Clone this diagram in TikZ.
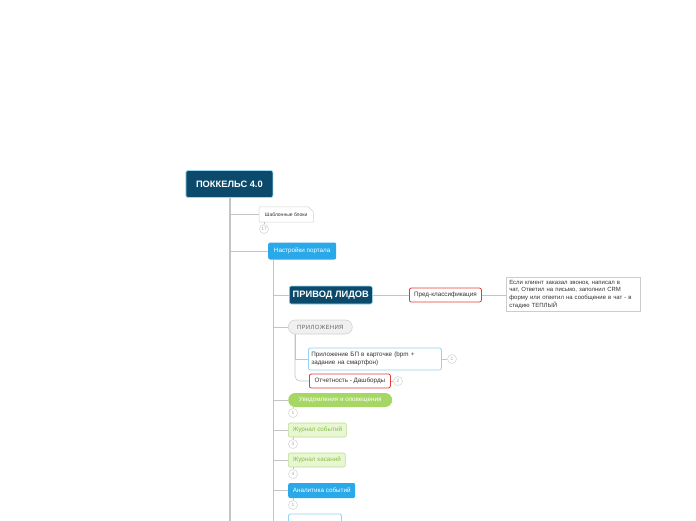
\documentclass[tikz,border=0pt]{standalone}
\usepackage{fontspec}
\setmainfont{Liberation Sans}
\definecolor{navy}{HTML}{0C4A6C}
\definecolor{navyedge}{HTML}{9AD8F4}
\definecolor{bluefill}{HTML}{29A9E9}
\definecolor{redline}{HTML}{E53935}
\definecolor{greenfill}{HTML}{A6D765}
\definecolor{lgfill}{HTML}{E9F6D4}
\definecolor{lgedge}{HTML}{B9E08C}
\definecolor{lgtext}{HTML}{86BE45}
\definecolor{lbedge}{HTML}{93D2F2}
\definecolor{conn}{HTML}{C4C4C4}
\definecolor{txt}{HTML}{333333}
\tikzset{
  box/.style={anchor=west, inner sep=0pt, rounded corners=2pt, align=center},
  navybox/.style={box, fill=navy, draw=navyedge, line width=0.8pt, text=white, font=\bfseries},
  bluebox/.style={box, fill=bluefill, text=white, font=\fontsize{6.3}{7}\selectfont},
  redbox/.style={box, fill=white, draw=redline, line width=0.8pt, text=txt, font=\fontsize{6.3}{7}\selectfont},
  pillgray/.style={box, rounded corners=7pt, fill=gray!12, draw=gray!35, line width=0.6pt, text=gray!80!black, font=\fontsize{6}{7}\selectfont},
  greenpill/.style={box, rounded corners=7pt, fill=greenfill, text=white, font=\fontsize{6.3}{7}\selectfont},
  lgbox/.style={box, fill=lgfill, draw=lgedge, line width=0.6pt, text=lgtext, font=\fontsize{6.3}{7}\selectfont},
  lbbox/.style={box, fill=white, draw=lbedge, line width=0.8pt, text=txt, font=\fontsize{6.3}{7.6}\selectfont},
  notebox/.style={anchor=north west, inner sep=3pt, fill=white, draw=gray!40, line width=0.5pt, text=txt, align=left, font=\fontsize{6}{7.6}\selectfont},
  badge/.style={circle, draw=gray!35, fill=white, line width=0.5pt, minimum size=9pt, inner sep=0pt, text=gray!70, font=\fontsize{4.8}{5}\selectfont},
  mainline/.style={draw=conn, line width=1.3pt},
  subline/.style={draw=conn, line width=0.9pt},
  thinline/.style={draw=conn, line width=0.6pt}
}
\begin{document}
\begin{tikzpicture}[x=1pt,y=-1pt]
\useasboundingbox (0,0) rectangle (696,520);
\clip (0,0) rectangle (696,520);
\fill[white] (0,0) rectangle (696,520);

% coordinates of trunks
\coordinate (t1) at (230,198);
\coordinate (t1e) at (230,521);
\coordinate (t2) at (273,260);
\coordinate (t2e) at (273,521);

% main lines
\draw[mainline] (t1) -- (t1e);
\draw[subline] (t2) -- (t2e);

% nodes
\node[navybox, minimum width=87, minimum height=27, font=\bfseries\fontsize{9.3}{10}\selectfont] (root) at (185.5,184) {ПОККЕЛЬС 4.0};
\node[box, draw=none, minimum width=54, minimum height=15, text=txt, font=\fontsize{5}{6}\selectfont] (sb) at (259,214.5) {Шаблонные блоки};
\filldraw[fill=white, draw=gray!35, line width=0.5pt] (sb.south west) -- (sb.north west) -- ([xshift=-5pt]sb.north east) -- ([yshift=-5pt]sb.north east) -- (sb.south east) -- cycle;
\node[box, minimum width=54, minimum height=15, text=txt, font=\fontsize{5}{6}\selectfont] at (sb.west) {Шаблонные блоки};
\node[badge] (b17) at (264,229) {17};

\node[bluebox, minimum width=68, minimum height=17] (np) at (268,251) {Настройки портала};

\node[navybox, minimum width=83, minimum height=18, font=\bfseries\fontsize{9.3}{10}\selectfont, line width=0.6pt] (pl) at (289,295) {ПРИВОД ЛИДОВ};
\node[redbox, minimum width=72, minimum height=14] (pk) at (409,295) {Пред-классификация};
\node[notebox, text width=128] (note) at (506,277) {Если клиент заказал звонок, написал в\\чат, Ответил на письмо, заполнил CRM\\форму или ответил на сообщение в чат - в\\стадию ТЕПЛЫЙ};

\node[pillgray, minimum width=64, minimum height=14] (apps) at (288,327) {П\kern0.3ptР\kern0.3ptИ\kern0.3ptЛ\kern0.3ptО\kern0.3ptЖ\kern0.3ptЕ\kern0.3ptН\kern0.3ptИ\kern0.3ptЯ};
\node[lbbox, minimum width=133, minimum height=22, align=left, text width=127, inner xsep=3pt] (bp) at (308,359) {Приложение БП в карточке (bpm +\\задание на смартфон)};
\node[badge] (b1a) at (452,359) {1};
\node[redbox, minimum width=81, minimum height=14] (otch) at (309,381) {Отчетность - Дашборды};
\node[badge] (b2) at (398,381) {2};

\node[greenpill, minimum width=104, minimum height=14] (uv) at (288,400) {Уведомления и оповещения};
\node[badge] (b1b) at (293,413) {1};
\node[lgbox, minimum width=58, minimum height=14] (js) at (288,430) {Журнал событий};
\node[badge] (b3) at (293,444) {3};
\node[lgbox, minimum width=57, minimum height=14] (jk) at (288,460) {Журнал касаний};
\node[badge] (b4) at (293,474) {4};
\node[bluebox, minimum width=67, minimum height=15] (an) at (288,490.5) {Аналитика событий};
\node[badge] (b1c) at (293,505) {1};
\node[lbbox, minimum width=53, minimum height=14] (last) at (288,521) {};

% connectors from trunk 1
\draw[subline] (sb.west -| t1) -- (sb.west);
\draw[subline] (np.west -| t1) -- (np.west);
% trunk 2 branches
\draw[subline] (pl.west -| t2) -- (pl.west);
\draw[subline] (apps.west -| t2) -- (apps.west);
\draw[subline] (uv.west -| t2) -- (uv.west);
\draw[subline] (js.west -| t2) -- (js.west);
\draw[subline] (jk.west -| t2) -- (jk.west);
\draw[subline] (an.west -| t2) -- (an.west);
\draw[subline] (last.west -| t2) -- (last.west);
% PL -> pk -> note
\draw[thinline] (pl.east) -- (pk.west);
\draw[thinline] (pk.east) -- (note.west |- pk.east);
% apps subtree
\coordinate (t3) at (295,334);
\draw[thinline] (t3) -- (bp.west -| t3) -- (bp.west);
\draw[thinline, rounded corners=5pt] (t3) -- (otch.west -| t3) -- (otch.west);
% badges
\draw[thinline] (bp.east) -- (b1a);
\draw[thinline] (otch.east) -- (b2);
\draw[thinline] (b1b.north |- uv.south) -- (b1b);
\draw[thinline] (b3.north |- js.south) -- (b3);
\draw[thinline] (b4.north |- jk.south) -- (b4);
\draw[thinline] (b1c.north |- an.south) -- (b1c);
\draw[thinline] (b17.north |- sb.south) -- (b17);
\end{tikzpicture}
\end{document}
